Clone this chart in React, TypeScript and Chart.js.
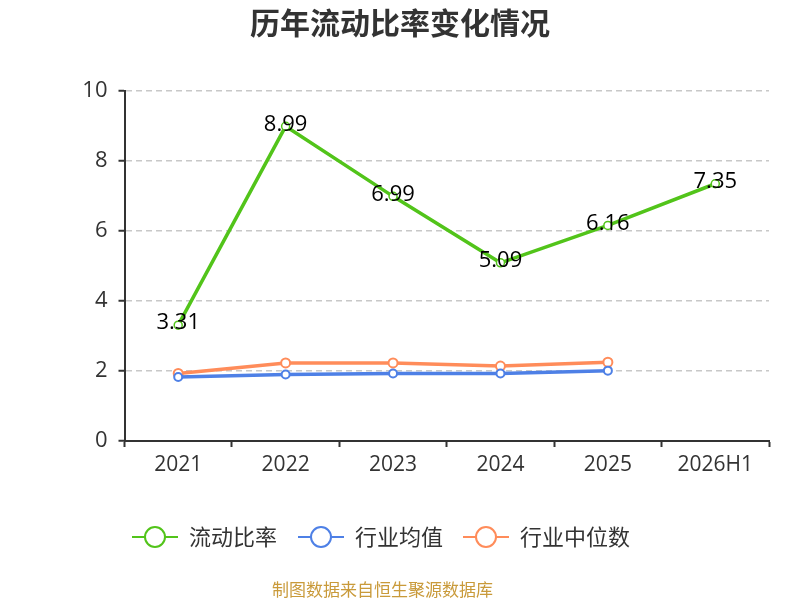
import { useEffect, useRef } from 'react'
import { Chart, registerables } from 'chart.js'

Chart.register(...registerables)

const FONT = "'Noto Sans CJK SC', 'Noto Sans', sans-serif"
const NUM_FONT = "'Open Sans', 'Noto Sans CJK SC', sans-serif"

const years = ['2021', '2022', '2023', '2024', '2025', '2026H1']
const currentRatio = [3.31, 8.99, 6.99, 5.09, 6.16, 7.35]
const industryAvg = [1.83, 1.9, 1.93, 1.93, 2.01, null]
const industryMedian = [1.93, 2.23, 2.23, 2.14, 2.25, null]
const yTicks = [0, 2, 4, 6, 8, 10]

const seriesNames = ['流动比率', '行业均值', '行业中位数']
const seriesColors = ['#52c41a', '#4e80e6', '#ff8c5a']

const titleText = '历年流动比率变化情况'
const sourceText = '制图数据来自恒生聚源数据库'

// value labels, legend, title and source line drawn straight on the canvas
const decorPlugin = {
  id: 'decor',
  afterDatasetsDraw(chart: any) {
    const ctx = chart.ctx
    const meta = chart.getDatasetMeta(0)
    ctx.save()
    ctx.font = `22px ${NUM_FONT}`
    ctx.fillStyle = '#000'
    ctx.textAlign = 'center'
    ctx.textBaseline = 'middle'
    meta.data.forEach((pt: any, i: number) => {
      ctx.fillText(currentRatio[i].toFixed(2), pt.x, pt.y - 2)
    })
    ctx.restore()
  },
  afterDraw(chart: any) {
    const ctx = chart.ctx
    ctx.save()
    ctx.fillStyle = '#333'
    ctx.textAlign = 'center'
    ctx.textBaseline = 'middle'
    ctx.font = `bold 30px ${FONT}`
    ctx.fillText(titleText, 400, 23)

    // legend
    const starts = [132, 298, 463]
    const ly = 537
    seriesNames.forEach((name, i) => {
      const x0 = starts[i]
      ctx.strokeStyle = seriesColors[i]
      ctx.lineWidth = 2
      ctx.beginPath()
      ctx.moveTo(x0, ly)
      ctx.lineTo(x0 + 46, ly)
      ctx.stroke()
      ctx.beginPath()
      ctx.arc(x0 + 23, ly, 10, 0, Math.PI * 2)
      ctx.fillStyle = '#fff'
      ctx.fill()
      ctx.stroke()
      ctx.fillStyle = '#333'
      ctx.font = `22px ${FONT}`
      ctx.textAlign = 'left'
      ctx.fillText(name, x0 + 57, ly)
    })

    ctx.font = `17px ${FONT}`
    ctx.fillStyle = '#c99a3a'
    ctx.textAlign = 'left'
    ctx.fillText(sourceText, 272, 590)
    ctx.restore()
  },
}

export default function App() {
  const chartRef = useRef<HTMLCanvasElement>(null)
  const chartInstance = useRef<Chart | null>(null)

  useEffect(() => {
    if (!chartRef.current) return
    if (chartInstance.current) {
      chartInstance.current.destroy()
    }
    const ctx = chartRef.current.getContext('2d')
    if (!ctx) return

    const lineStyle = (i: number, radius: number, pbw: number) => ({
      borderColor: seriesColors[i],
      backgroundColor: seriesColors[i],
      borderWidth: 3.5,
      pointRadius: radius,
      pointBorderWidth: pbw,
      pointBackgroundColor: '#fff',
      pointBorderColor: seriesColors[i],
      tension: 0,
    })

    chartInstance.current = new Chart(ctx, {
      type: 'line',
      data: {
        labels: years,
        datasets: [
          { label: seriesNames[0], data: currentRatio, ...lineStyle(0, 4, 1.5), order: 0 },
          { label: seriesNames[1], data: industryAvg, ...lineStyle(1, 4, 2), order: 1 },
          { label: seriesNames[2], data: industryMedian, ...lineStyle(2, 4.5, 2), order: 2 },
        ],
      },
      options: {
        responsive: true,
        maintainAspectRatio: false,
        animation: false,
        layout: {
          padding: { top: 91, right: 31, bottom: 119, left: 0 },
        },
        plugins: {
          legend: { display: false },
          title: { display: false },
          tooltip: { enabled: false },
        },
        scales: {
          x: {
            offset: true,
            grid: {
              offset: true,
              drawOnChartArea: false,
              tickLength: 6,
              tickColor: '#333',
              tickWidth: 2,
            },
            border: { color: '#333', width: 2 },
            ticks: {
              color: '#333',
              font: { size: 21, family: NUM_FONT },
              padding: 5,
              maxRotation: 0,
            },
            afterFit: (scale: any) => {
              scale.height = 40
            },
          },
          y: {
            min: 0,
            max: 10,
            afterBuildTicks: (scale: any) => {
              scale.ticks = yTicks.map((v) => ({ value: v }))
            },
            grid: {
              color: (c: any) => (c.tick && c.tick.value === 0 ? 'rgba(0,0,0,0)' : '#c8c8c8'),
              lineWidth: 1.5,
              tickLength: 6,
              tickColor: '#333',
              tickWidth: 2,
            },
            border: { color: '#333', width: 2, dash: [6, 4] },
            ticks: {
              color: '#333',
              font: { size: 22, family: NUM_FONT },
              padding: 11,
            },
            afterFit: (scale: any) => {
              scale.width = 124.5
            },
          },
        },
      },
      plugins: [decorPlugin],
    })

    return () => {
      if (chartInstance.current) {
        chartInstance.current.destroy()
        chartInstance.current = null
      }
    }
  }, [])

  return (
    <div style={{ position: 'fixed', left: 0, top: 0, width: 800, height: 600, background: '#fff' }}>
      <canvas ref={chartRef} />
    </div>
  )
}
